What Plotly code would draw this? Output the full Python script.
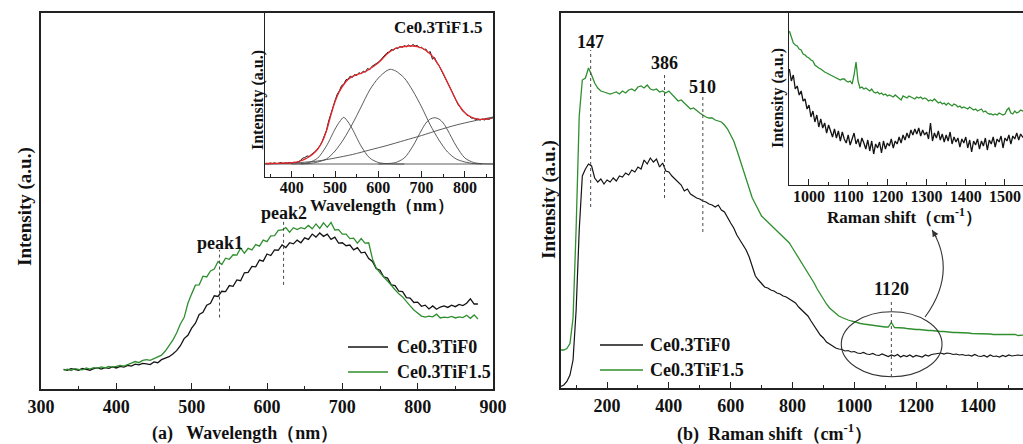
import plotly.graph_objects as go

W, H = 1023, 444
FONT = "Liberation Serif, Times New Roman, serif"
BLACK = "#141414"
GREEN = "#2f8f2f"
RED = "#e4252a"
GREY = "#4a4a4a"

# ---------------- (a) photoluminescence spectra ----------------
wl = list(range(330, 885, 5))
pl_f0 = [
    5.2, 5.0, 5.4, 5.1, 5.0, 5.5, 5.2, 5.0, 5.4, 5.6,
    5.3, 5.7, 5.5, 5.9, 5.6, 6.0, 5.8, 6.3, 6.1, 6.6,
    6.4, 6.8, 6.7, 6.5, 7.2, 7.0, 7.8, 8.1, 8.6, 9.3,
    10.2, 11.5, 13.4, 14.3, 16.2, 17.5, 19.8, 20.4, 22.3, 22.8,
    24.8, 24.6, 26.0, 25.9, 27.5, 27.3, 29.0, 28.8, 30.9, 31.0,
    32.6, 32.5, 34.3, 34.0, 35.9, 35.5, 37.0, 36.9, 38.3, 37.6,
    38.9, 38.6, 39.6, 38.9, 40.2, 39.8, 41.2, 40.4, 41.5, 40.6,
    41.2, 39.8, 40.4, 38.8, 38.9, 38.1, 38.3, 37.0, 37.6, 36.2,
    36.4, 34.7, 33.9, 32.0, 31.6, 29.8, 29.5, 27.7, 27.5, 26.0,
    25.9, 24.3, 24.2, 23.0, 23.1, 22.0, 22.3, 21.3, 22.1, 21.2,
    21.8, 22.1, 21.7, 22.3, 21.9, 22.5, 22.2, 22.8, 24.0, 22.6,
    22.6,
]
pl_f15 = [
    5.0, 5.3, 4.9, 5.4, 5.2, 5.1, 5.6, 5.3, 5.7, 5.5,
    5.9, 5.6, 6.0, 5.8, 6.0, 6.3, 6.1, 6.6, 6.9, 7.3,
    7.0, 7.6, 7.8, 7.6, 8.1, 8.4, 9.0, 10.1, 11.4, 13.0,
    14.9, 17.3, 19.0, 22.8, 25.3, 27.6, 27.7, 30.0, 29.8, 31.4,
    31.9, 33.9, 33.1, 34.8, 34.5, 35.7, 35.6, 37.5, 36.1, 37.4,
    37.0, 38.4, 38.0, 39.6, 39.2, 40.7, 40.8, 42.2, 42.3, 42.9,
    41.7, 42.9, 42.4, 42.9, 42.6, 43.5, 42.6, 43.9, 42.7, 44.2,
    43.0, 44.3, 42.3, 42.4, 41.2, 41.2, 40.0, 40.1, 38.8, 40.0,
    38.8, 38.9, 34.6, 32.2, 30.9, 29.8, 28.9, 27.6, 26.4, 25.3,
    24.5, 23.2, 22.1, 21.0, 20.2, 19.4, 19.1, 19.4, 19.2, 19.9,
    18.9, 19.1, 19.0, 19.3, 18.9, 19.2, 19.0, 19.6, 18.8, 19.7,
    18.6,
]
peak_marks = {"peak1": (537, 19.0, 37.0), "peak2": (622, 27.7, 45.0)}

# inset: Gaussian deconvolution of Ce0.3TiF1.5
wl_in = list(range(340, 870, 5))
pl_in = [
    0.8, 0.2, 1.0, 0.5, 1.2, 0.4, 0.9, 1.4, 0.6, 1.1,
    0.7, 1.5, 1.0, 1.8, 1.3, 2.4, 3.5, 5.9, 6.4, 8.0,
    7.6, 9.5, 11.2, 12.8, 15.5, 18.3, 22.6, 27.8, 33.5, 42.8,
    50.5, 57.9, 63.6, 69.8, 73.2, 78.5, 79.6, 84.2, 84.8, 87.9,
    86.6, 89.5, 88.4, 91.3, 90.2, 92.9, 91.8, 95.6, 94.3, 97.6,
    98.9, 100.2, 101.8, 104.0, 106.5, 108.0, 111.3, 112.0, 114.6, 113.7,
    116.2, 115.4, 117.5, 116.6, 118.4, 117.2, 119.0, 117.6, 119.5, 117.9,
    118.6, 116.2, 116.8, 114.5, 114.9, 111.2, 112.4, 104.8, 106.5, 101.2,
    98.6, 94.1, 90.0, 86.2, 81.0, 77.4, 72.5, 67.8, 63.5, 58.9,
    56.4, 52.8, 51.5, 48.6, 48.2, 45.8, 46.0, 44.1, 45.2, 43.8,
    44.9, 44.0, 45.1, 44.5, 45.6, 46.2,
]
fit_x = list(range(340, 870, 10))
fit_y = [
    0.5, 0.5, 0.6, 0.7, 0.8, 1.0, 1.3, 1.8, 3.0, 4.8,
    7.2, 10.5, 15.0, 22.0, 33.0, 48.5, 62.5, 72.5, 79.5, 84.5,
    87.5, 89.3, 90.7, 92.5, 95.0, 98.0, 101.3, 105.5, 110.0, 113.3,
    115.5, 116.8, 117.5, 118.0, 118.0, 117.3, 116.0, 113.5, 110.0, 105.0,
    98.5, 90.5, 81.5, 72.5, 63.5, 56.5, 51.3, 48.0, 46.0, 44.9,
    44.6, 44.9, 45.6,
]
g1_x = [400, 420, 440, 460, 480, 500, 510, 520, 530, 540, 560, 580, 600, 620, 640, 660]
g1_y = [0, 0.3, 1.5, 6, 18, 35, 42, 46.7, 42, 35, 18, 6, 1.5, 0.3, 0, 0]
g2_x = [420, 440, 460, 480, 500, 520, 540, 560, 580, 600, 620, 628, 640, 660,
        680, 700, 720, 740, 760, 780, 800, 820, 840]
g2_y = [0, 0.5, 2, 5, 13, 25, 40, 57, 74, 86, 93.5, 94.7, 93, 86,
        73, 57, 39, 24, 12, 5, 2, 0.5, 0]
g3_x = [600, 620, 640, 660, 680, 700, 710, 720, 730, 740, 750, 760, 780, 800, 820, 840, 865]
g3_y = [0, 0.3, 1.5, 6, 18, 34, 41, 45, 46.3, 45, 41, 34, 18, 6, 1.5, 0.3, 0]
bg_x = [338, 380, 420, 460, 500, 540, 580, 620, 660, 700, 740, 780, 820, 865]
bg_y = [0, 0.5, 1.5, 3, 6, 9.5, 14, 18.5, 23.5, 28.5, 34, 39, 43, 47]
base_x = [338, 865]
base_y = [0, 0]

# ---------------- (b) Raman spectra ----------------
rs = list(range(50, 1560, 10))
ra_f0 = [
    1.5, 3.0, 6.5, 13, 28, 78, 158, 212, 219, 224,
    222, 210, 206, 209, 204, 208, 206, 210, 207, 212,
    211, 215, 213, 218, 216, 221, 219, 228, 224, 230,
    226, 229, 221, 225, 217, 216, 212, 209, 205, 203,
    197, 199, 194, 192, 190, 189, 187, 186, 184, 183,
    181, 183, 178, 176, 170, 165, 160, 153, 148, 143,
    138, 131, 121, 112, 108, 104, 101, 100, 98, 97,
    95, 94, 92, 91, 89, 87, 85, 81, 78, 75,
    72, 67, 62, 58, 53, 50, 46, 44, 42, 40,
    39, 38.5, 37, 37.5, 36, 36.5, 35, 34.5, 35.5, 34,
    33.5, 34.5, 33, 32.5, 34, 33, 31.5, 33, 32, 33.5,
    31, 32.5, 31.5, 33, 31, 32.5, 32, 31, 33, 32,
    33.5, 34, 34.5, 35, 34, 35, 34.5, 33.5, 34, 33,
    33.5, 32.5, 33, 32, 33.5, 32, 31.5, 32.5, 31, 33,
    31.5, 32, 31, 32.5, 31.5, 33, 32, 32.5, 33, 32.5,
    33,
]
ra_f15 = [
    38, 38, 39.5, 44.5, 70, 160, 272, 308, 310, 320,
    313, 305, 300, 297, 296, 295, 294, 295, 296, 294,
    297, 295, 298, 299, 297, 301, 302, 300, 303, 299,
    298, 299, 296, 297, 295, 297, 294, 290, 287, 288,
    285, 281, 279, 280, 277, 275, 273, 271, 270, 270,
    268, 267, 266, 263, 259, 253, 247, 238, 228, 218,
    208, 198, 190, 184, 178, 172, 169, 166, 163, 160,
    157, 155, 152, 149, 145, 140, 135, 130, 125, 121,
    116, 110, 105, 99, 94, 88, 84, 80, 77, 74,
    72, 70.5, 69, 68, 67, 66, 65.5, 64.5, 64, 63.5,
    63, 62.5, 62.5, 62, 61.5, 61, 61, 65.5, 60.5, 60.5,
    60, 60, 59.5, 59, 59, 58.5, 58.5, 58, 58, 57.5,
    57.5, 57, 57, 56.5, 56.5, 56, 56, 55.5, 55.5, 55.5,
    55, 55, 55, 54.5, 54.5, 54.5, 54.5, 54, 54, 54,
    53.5, 53.5, 53.5, 53.5, 53, 53, 53, 53.5, 52.5, 53,
    53,
]
raman_marks = {147: (181, 338), 386: (190, 315), 510: (156, 293), 1120: (11, 88)}
raman_label_y = {147: 346, 386: 325, 510: 301, 1120: 99}

# inset: 950-1550 cm-1 zoom
rs_in = list(range(950, 1555, 5))
ri_f0 = [
    116, 104, 110, 96, 99, 90, 94, 84, 86, 76,
    80, 68, 74, 63, 70, 58, 66, 57, 62, 52,
    60, 55, 48, 56, 47, 54, 44, 53, 46, 42,
    50, 40, 47, 52, 41, 46, 38, 47, 42, 36,
    45, 34, 44, 31, 41, 37, 43, 32, 44, 36,
    42, 39, 46, 37, 44, 41, 48, 42, 50, 45,
    52, 47, 55, 50, 56, 51, 57, 49, 55, 50,
    53, 46, 62, 44, 52, 47, 54, 45, 51, 43,
    50, 44, 53, 41, 48, 43, 47, 38, 46, 42,
    48, 37, 45, 33, 44, 40, 46, 36, 44, 39,
    47, 35, 45, 41, 48, 38, 46, 43, 49, 37,
    47, 44, 50, 41, 49, 46, 52, 45, 51, 48,
    50,
]
ri_f15 = [
    154, 148, 142, 140, 139, 136, 135, 131, 130, 128,
    127, 125, 124, 120, 118, 117, 116, 114, 113, 112,
    111, 110, 109, 108, 107, 106, 105, 106, 106, 104,
    103, 104, 101, 110, 123, 104, 97, 98, 96, 97,
    95, 94, 96, 93, 92, 93, 91, 92, 90, 91,
    89, 90, 89, 88, 90, 88, 87, 85, 89, 88,
    87, 89, 88, 87, 86, 88, 87, 88, 86, 87,
    86, 84, 85, 84, 86, 84, 82, 83, 81, 82,
    80, 82, 80, 79, 81, 80, 78, 79, 77, 78,
    77, 76, 78, 76, 75, 76, 74, 75, 76, 73,
    74, 72, 71, 71, 70, 71, 70, 72, 71, 70,
    71, 75, 77, 72, 71, 74, 72, 73, 75, 74,
    75,
]
names = ["Ce0.3TiF0", "Ce0.3TiF1.5"]


def px(x):
    return x / W


def py(y):
    return 1 - y / H


fig = go.Figure()

# (a) main
fig.add_trace(go.Scatter(x=wl, y=pl_f0, mode="lines", line=dict(color=BLACK, width=1.3),
                         xaxis="x", yaxis="y", name=names[0]))
fig.add_trace(go.Scatter(x=wl, y=pl_f15, mode="lines", line=dict(color=GREEN, width=1.3),
                         xaxis="x", yaxis="y", name=names[1]))
# (a) inset
for gx, gy in [(base_x, base_y), (bg_x, bg_y), (g1_x, g1_y), (g2_x, g2_y), (g3_x, g3_y)]:
    fig.add_trace(go.Scatter(x=gx, y=gy, mode="lines",
                             line=dict(color=GREY, width=0.9, shape="spline", smoothing=0.8),
                             xaxis="x2", yaxis="y2"))
fig.add_trace(go.Scatter(x=wl_in, y=pl_in, mode="lines", line=dict(color=BLACK, width=1.0),
                         xaxis="x2", yaxis="y2"))
fig.add_trace(go.Scatter(x=fit_x, y=fit_y, mode="lines",
                         line=dict(color=RED, width=1.3, shape="spline", smoothing=0.8),
                         xaxis="x2", yaxis="y2"))
# (b) main
fig.add_trace(go.Scatter(x=rs, y=ra_f0, mode="lines", line=dict(color=BLACK, width=1.2),
                         xaxis="x3", yaxis="y3", name=names[0]))
fig.add_trace(go.Scatter(x=rs, y=ra_f15, mode="lines", line=dict(color=GREEN, width=1.3),
                         xaxis="x3", yaxis="y3", name=names[1]))
# (b) inset
fig.add_trace(go.Scatter(x=rs_in, y=ri_f15, mode="lines", line=dict(color=GREEN, width=1.3),
                         xaxis="x4", yaxis="y4"))
fig.add_trace(go.Scatter(x=rs_in, y=ri_f0, mode="lines", line=dict(color=BLACK, width=1.3),
                         xaxis="x4", yaxis="y4"))

tick_font = dict(family=FONT, size=18, color="#111", weight="bold")
inset_tick_font = dict(family=FONT, size=16, color="#111", weight="bold")
AXC = "#222"


def xax(domain, rng, tick0, dtick, mdtick, font, mirror=True, lw=1.5, standoff=0):
    return dict(domain=domain, range=rng, tick0=tick0, dtick=dtick, ticks="inside",
                ticklen=6, tickwidth=1.3, tickcolor=AXC, showline=True, linecolor=AXC,
                linewidth=lw, mirror=mirror, showgrid=False, zeroline=False, tickfont=font,
                ticklabelstandoff=standoff, automargin=False,
                minor=dict(ticks="inside", ticklen=3, tickwidth=1.1, tickcolor=AXC,
                           dtick=mdtick, tick0=tick0, showgrid=False))


def yax(domain, rng, mirror=True, lw=1.5):
    return dict(domain=domain, range=rng, showticklabels=False, ticks="", showline=True,
                linecolor=AXC, linewidth=lw, mirror=mirror, showgrid=False, zeroline=False,
                automargin=False)


layout = dict(
    width=W, height=H, margin=dict(l=0, r=0, t=0, b=0, autoexpand=False),
    paper_bgcolor="white", plot_bgcolor="rgba(0,0,0,0)", showlegend=False,
    xaxis=xax([px(41), px(493)], [300, 900], 300, 100, 50, tick_font, standoff=1),
    yaxis=yax([py(389), py(13)], [0, 100]),
    xaxis2=xax([px(265), px(493)], [338, 865], 400, 100, 50, inset_tick_font, lw=1.2,
               standoff=-4),
    yaxis2=yax([py(177), py(13)], [-13, 151], lw=1.2),
    xaxis3=xax([px(561), 1.0], [51, 1546], 200, 200, 100, tick_font, mirror=True, standoff=1),
    yaxis3=yax([py(388), py(13)], [0, 375], mirror=False),
    xaxis4=xax([px(789), 1.0], [949, 1546], 1000, 100, 50, inset_tick_font, lw=1.2,
               standoff=-3),
    yaxis4=yax([py(185), py(13)], [0, 172], mirror=False, lw=1.2),
)
layout["xaxis2"]["anchor"] = "y2"
layout["yaxis2"]["anchor"] = "x2"
layout["xaxis3"]["anchor"] = "y3"
layout["yaxis3"]["anchor"] = "x3"
layout["xaxis4"]["anchor"] = "y4"
layout["yaxis4"]["anchor"] = "x4"
fig.update_layout(**layout)

shapes = []
annotations = []


def text(x, y, s, size=18, xanchor="center", angle=0, xref="paper", yref="paper"):
    if xref == "paper":
        x, y = px(x), py(y)
    annotations.append(dict(x=x, y=y, xref=xref, yref=yref, text=s, showarrow=False,
                            xanchor=xanchor, yanchor="middle", textangle=angle,
                            font=dict(family=FONT, size=size, color="#111", weight="bold")))


# peak markers in (a)
for lab, (xv, y0, y1) in peak_marks.items():
    shapes.append(dict(type="line", xref="x", yref="y", x0=xv, x1=xv, y0=y0, y1=y1,
                       line=dict(color=GREY, width=1, dash="dot")))
text(peak_marks["peak1"][0], 38.8, "peak1", xref="x", yref="y")
text(peak_marks["peak2"][0], 46.8, "peak2", xref="x", yref="y")

# Raman band markers in (b)
for xv, (y0, y1) in raman_marks.items():
    shapes.append(dict(type="line", xref="x3", yref="y3", x0=xv, x1=xv, y0=y0, y1=y1,
                       line=dict(color=GREY, width=1, dash="dot")))
    text(xv, raman_label_y[xv], str(xv), xref="x3", yref="y3")

# ellipse around the 1120 band and curved arrow to the inset
shapes.append(dict(type="circle", xref="x3", yref="y3", x0=958, x1=1284, y0=11.3, y1=76.3,
                   line=dict(color="#333", width=1.1)))
shapes.append(dict(type="path", xref="x3", yref="y3", path="M 1229,71 Q 1334,115.5 1252,158",
                   line=dict(color="#333", width=1.1)))
annotations.append(dict(x=1252, y=158, xref="x3", yref="y3", ax=5, ay=8.5, text="",
                        showarrow=True, arrowhead=2, arrowsize=1.2, arrowwidth=1.1,
                        arrowcolor="#333", standoff=0))

# hand-drawn legends
for (lx0, lx1, tx, rows) in [(348, 388, 395, (347, 372)), (600, 643, 648, (345, 370))]:
    for col, nm, ry in zip([BLACK, GREEN], names, rows):
        shapes.append(dict(type="line", xref="paper", yref="paper", x0=px(lx0), x1=px(lx1),
                           y0=py(ry), y1=py(ry), line=dict(color=col, width=1.6)))
        text(tx, ry, nm, size=18, xanchor="left")

# axis titles and inset labels
text(245, 433, "(a)   Wavelength（nm）", size=18)
text(774, 433, "(b)  Raman shift（cm<sup>-1</sup>）", size=18)
text(25, 207, "Intensity (a.u.)", size=19, angle=-90)
text(549, 200, "Intensity (a.u.)", size=19, angle=-90)
text(258, 100, "Intensity (a.u.)", size=16, angle=-90)
text(778, 98, "Intensity (a.u.)", size=16, angle=-90)
text(382, 205, "Wavelength（nm）", size=17)
text(904, 216, "Raman shift（cm<sup>-1</sup>）", size=17)
text(484, 27, "Ce0.3TiF1.5", size=17, xanchor="right")

fig.update_layout(shapes=shapes, annotations=annotations)
fig.write_html("out.html")
